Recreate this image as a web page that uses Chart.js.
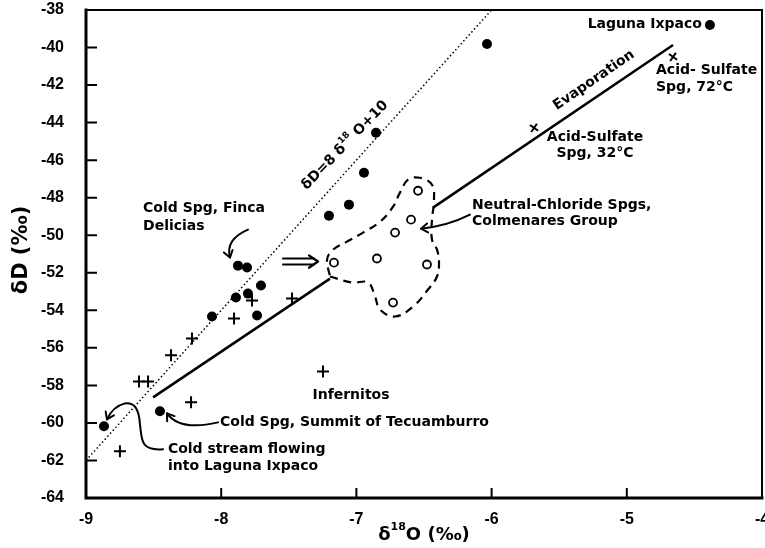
<!DOCTYPE html>
<html>
<head>
<meta charset="utf-8">
<script src="https://cdn.jsdelivr.net/npm/chart.js@4"></script>
<style>
  html, body { margin: 0; padding: 0; background: #fff; }
</style>
</head>
<body>
<canvas id="chart" width="765" height="548"></canvas>
<script>
/* ─── data (δ18O, δD in ‰) ───────────────────────────────── */

const xTickValues = [-9, -8, -7, -6, -5, -4];
const yTickValues = [-38, -40, -42, -44, -46, -48, -50, -52, -54, -56, -58, -60, -62, -64];

// filled circles: cold springs, streams, Laguna Ixpaco
const filledX = [-7.876, -7.809, -7.706, -7.891, -7.802, -8.068, -7.735, -8.453, -8.867, -4.385, -6.034, -6.855, -6.944, -7.055, -7.203];
const filledY = [-51.62, -51.72, -52.68, -53.32, -53.11, -54.33, -54.28, -59.38, -60.18, -38.80, -39.81, -44.54, -46.67, -48.37, -48.96];

// plus signs
const plusX = [-7.772, -7.905, -8.216, -8.371, -8.608, -8.541, -8.223, -8.749, -7.476, -7.247];
const plusY = [-53.48, -54.44, -55.50, -56.40, -57.79, -57.79, -58.90, -61.51, -53.37, -57.26];

// acid-sulfate springs (tilted crosses)
const acidX = [-5.686, -4.658];
const acidY = [-44.28, -40.50];

// open circles: neutral-chloride springs, Colmenares group
const openX = [-6.544, -6.596, -6.714, -7.166, -6.848, -6.478, -6.729];
const openY = [-47.63, -49.17, -49.86, -51.46, -51.24, -51.56, -53.59];

// meteoric water line  δD = 8 δ18O + 10
const mwlX = [-9, -6];
const mwlY = [-62, -38];

// evaporation trend, broken where it meets the Colmenares group
const evapLowX = [-8.504, -7.195];
const evapLowY = [-58.64, -52.31];
const evapHighX = [-6.433, -4.658];
const evapHighY = [-48.53, -39.86];

// dashed outline round the Colmenares group
const blobX = [-7.195, -7.033, -6.914, -6.862, -6.825, -6.714, -6.581, -6.470, -6.404, -6.389, -6.404, -6.441, -6.441, -6.426, -6.441, -6.530, -6.618, -6.678, -6.729, -6.825, -6.951, -7.070, -7.173, -7.217, -7.195];
const blobY = [-52.20, -52.52, -52.52, -53.27, -53.96, -54.33, -53.80, -52.89, -52.20, -51.46, -50.77, -50.23, -49.17, -48.11, -47.31, -46.94, -47.04, -47.73, -48.48, -49.28, -49.86, -50.34, -50.77, -51.30, -52.20];

/* ─── annotations, placed in data units ──────────────────── */

const NOTE_FONT = 'bold 14px "DejaVu Sans"';

const notes = [
  { text: 'Laguna Ixpaco', x: -4.444, y: -38.74, align: 'right' },
  { text: 'Acid- Sulfate', x: -4.784, y: -41.19, align: 'left' },
  { text: 'Spg, 72°C', x: -4.784, y: -42.10, align: 'left' },
  { text: 'Acid-Sulfate', x: -5.235, y: -44.76, align: 'center' },
  { text: 'Spg, 32°C', x: -5.235, y: -45.66, align: 'center' },
  { text: 'Neutral-Chloride Spgs,', x: -6.145, y: -48.43, align: 'left' },
  { text: 'Colmenares Group', x: -6.145, y: -49.28, align: 'left' },
  { text: 'Cold Spg, Finca', x: -8.578, y: -48.59, align: 'left' },
  { text: 'Delicias', x: -8.578, y: -49.54, align: 'left' },
  { text: 'Infernitos', x: -7.040, y: -58.53, align: 'center' },
  { text: 'Cold Spg, Summit of Tecuamburro', x: -8.009, y: -59.97, align: 'left' },
  { text: 'Cold stream flowing', x: -8.394, y: -61.40, align: 'left' },
  { text: 'into Laguna Ixpaco', x: -8.394, y: -62.31, align: 'left' },
];

const arrows = [
  [['M', -7.802, -49.70], ['Q', -7.972, -50.23, -7.935, -51.19]],
  [['M', -6.160, -48.90], ['Q', -6.322, -49.49, -6.522, -49.65]],
  [['M', -8.024, -59.97], ['Q', -8.305, -60.45, -8.401, -59.49]],
  [['M', -8.430, -61.40], ['C', -8.601, -61.51, -8.586, -60.87, -8.601, -60.07],
   ['C', -8.608, -59.28, -8.638, -58.90, -8.712, -58.96], ['Q', -8.800, -59.12, -8.845, -59.81]],
];

const zip = (xs, ys) => xs.map((x, i) => ({ x, y: ys[i] }));

function chevron(ctx, fx, fy, tx, ty, size) {
  const a = Math.atan2(ty - fy, tx - fx);
  ctx.beginPath();
  ctx.moveTo(tx - size * Math.cos(a - 0.6), ty - size * Math.sin(a - 0.6));
  ctx.lineTo(tx, ty);
  ctx.lineTo(tx - size * Math.cos(a + 0.6), ty - size * Math.sin(a + 0.6));
  ctx.stroke();
}

// draws text pieces in a row, superscripts smaller and raised
function drawRun(ctx, parts, x, y, size) {
  let cx = x;
  parts.forEach(p => {
    ctx.font = p.sup ? `bold ${Math.round(size * 0.62)}px "DejaVu Sans"` : `bold ${size}px "DejaVu Sans"`;
    ctx.fillText(p.t, cx, p.sup ? y - size * 0.42 : y);
    cx += ctx.measureText(p.t).width;
  });
}

function runWidth(ctx, parts, size) {
  return parts.reduce((w, p) => {
    ctx.font = p.sup ? `bold ${Math.round(size * 0.62)}px "DejaVu Sans"` : `bold ${size}px "DejaVu Sans"`;
    return w + ctx.measureText(p.t).width;
  }, 0);
}

const framePlugin = {
  id: 'frame',
  afterDraw(chart) {
    const { ctx, chartArea: a, scales: { x, y } } = chart;
    ctx.save();
    ctx.strokeStyle = '#000';
    ctx.lineCap = 'square';
    ctx.lineWidth = 2;
    ctx.beginPath();
    ctx.moveTo(a.left, a.top); ctx.lineTo(a.right, a.top); ctx.lineTo(a.right, a.bottom);
    ctx.stroke();
    ctx.lineWidth = 3;
    ctx.beginPath();
    ctx.moveTo(a.left, a.top); ctx.lineTo(a.left, a.bottom); ctx.lineTo(a.right, a.bottom);
    ctx.stroke();
    // inward tick marks
    ctx.lineWidth = 2;
    ctx.lineCap = 'butt';
    ctx.beginPath();
    x.ticks.forEach(t => {
      const px = x.getPixelForValue(t.value);
      ctx.moveTo(px, a.bottom); ctx.lineTo(px, a.bottom - 10);
    });
    y.ticks.forEach(t => {
      const py = y.getPixelForValue(t.value);
      ctx.moveTo(a.left, py); ctx.lineTo(a.left + 11, py);
    });
    ctx.stroke();

    // axis titles
    ctx.fillStyle = '#000';
    ctx.textBaseline = 'middle';
    ctx.textAlign = 'left';
    const xt = [{ t: 'δ' }, { t: '18', sup: true }, { t: 'O (‰)' }];
    const xw = runWidth(ctx, xt, 18);
    drawRun(ctx, xt, (a.left + a.right) / 2 - xw / 2, 535, 18);

    ctx.save();
    ctx.translate(22, 250);
    ctx.rotate(-Math.PI / 2);
    const yt = [{ t: 'δD (‰)' }];
    const yw = runWidth(ctx, yt, 21);
    drawRun(ctx, yt, -yw / 2, 0, 21);
    ctx.restore();
    ctx.restore();
  },
};

const notesPlugin = {
  id: 'notes',
  afterDatasetsDraw(chart) {
    const { ctx, scales: { x, y } } = chart;
    const P = (vx, vy) => [x.getPixelForValue(vx), y.getPixelForValue(vy)];
    ctx.save();
    ctx.fillStyle = '#000';
    ctx.strokeStyle = '#000';
    ctx.font = NOTE_FONT;
    ctx.textBaseline = 'middle';

    notes.forEach(n => {
      const [px, py] = P(n.x, n.y);
      ctx.textAlign = n.align;
      ctx.fillText(n.text, px, py);
    });

    // rotated labels
    ctx.textAlign = 'left';
    let [cx, cy] = P(-5.243, -41.74);
    ctx.save();
    ctx.translate(cx, cy);
    ctx.rotate(-34.5 * Math.PI / 180);
    const ev = [{ t: 'Evaporation' }];
    drawRun(ctx, ev, -runWidth(ctx, ev, 14) / 2, 0, 14);
    ctx.restore();

    [cx, cy] = P(-7.084, -45.21);
    ctx.save();
    ctx.translate(cx, cy);
    ctx.rotate(-46 * Math.PI / 180);
    const mw = [{ t: 'δD=8 δ' }, { t: '18', sup: true }, { t: ' O+10' }];
    drawRun(ctx, mw, -runWidth(ctx, mw, 14) / 2, 0, 14);
    ctx.restore();

    // curved pointer arrows
    ctx.lineWidth = 2;
    ctx.lineCap = 'round';
    ctx.lineJoin = 'round';
    arrows.forEach(path => {
      ctx.beginPath();
      let prev = null, last = null;
      path.forEach(seg => {
        const pts = [];
        for (let i = 1; i < seg.length; i += 2) pts.push(P(seg[i], seg[i + 1]));
        if (seg[0] === 'M') ctx.moveTo(...pts[0]);
        if (seg[0] === 'Q') ctx.quadraticCurveTo(...pts[0], ...pts[1]);
        if (seg[0] === 'C') ctx.bezierCurveTo(...pts[0], ...pts[1], ...pts[2]);
        prev = pts.length > 1 ? pts[pts.length - 2] : last;
        last = pts[pts.length - 1];
      });
      ctx.stroke();
      chevron(ctx, prev[0], prev[1], last[0], last[1], 8);
    });

    // double arrow pointing at the Colmenares group
    const [sx, sy] = P(-7.543, -51.40);
    const [tx] = P(-7.284, -51.40);
    ctx.lineWidth = 2;
    ctx.beginPath();
    ctx.moveTo(sx, sy - 3); ctx.lineTo(tx - 4, sy - 3);
    ctx.moveTo(sx, sy + 3); ctx.lineTo(tx - 4, sy + 3);
    ctx.stroke();
    ctx.lineWidth = 2.2;
    chevron(ctx, sx, sy, tx, sy, 11);
    ctx.restore();
  },
};

const TICK_FONT = { family: '"Liberation Sans", Arial', size: 16, weight: 'bold' };

// keep the plot box where the figure has it: no padding for edge labels
function noEdgePadding(s) {
  s.paddingLeft = 0; s.paddingRight = 0; s.paddingTop = 0; s.paddingBottom = 0;
}

new Chart(document.getElementById('chart'), {
  type: 'scatter',
  data: {
    datasets: [
      { data: zip(filledX, filledY), pointStyle: 'circle', pointRadius: 5, backgroundColor: '#000', borderColor: '#000', borderWidth: 0 },
      { data: zip(openX, openY), pointStyle: 'circle', pointRadius: 4, backgroundColor: '#fff', borderColor: '#000', borderWidth: 1.8 },
      { data: zip(plusX, plusY), pointStyle: 'cross', pointRadius: 6, borderColor: '#000', borderWidth: 2 },
      { data: zip(acidX, acidY), pointStyle: 'cross', pointRadius: 5, rotation: 35, borderColor: '#000', borderWidth: 2 },
      { data: zip(mwlX, mwlY), showLine: true, pointRadius: 0, borderColor: '#000', borderWidth: 1.5, borderDash: [1.5, 2.5] },
      { data: zip(evapLowX, evapLowY), showLine: true, pointRadius: 0, borderColor: '#000', borderWidth: 2.5 },
      { data: zip(evapHighX, evapHighY), showLine: true, pointRadius: 0, borderColor: '#000', borderWidth: 2.5 },
      { data: zip(blobX, blobY), showLine: true, pointRadius: 0, borderColor: '#000', borderWidth: 2.2, borderDash: [8, 6], tension: 0.4 },
    ],
  },
  options: {
    responsive: false,
    devicePixelRatio: 1,
    animation: false,
    events: [],
    layout: { autoPadding: false, padding: { left: 0, right: 3, top: 10, bottom: 0 } },
    plugins: { legend: { display: false }, tooltip: { enabled: false } },
    scales: {
      x: {
        type: 'linear', min: -9, max: -4,
        afterBuildTicks: s => { s.ticks = xTickValues.map(v => ({ value: v })); },
        afterFit: s => { s.height = 50; noEdgePadding(s); },
        grid: { display: false }, border: { display: false },
        ticks: { font: TICK_FONT, color: '#000', padding: 4, maxRotation: 0, autoSkip: false },
      },
      y: {
        type: 'linear', min: -64, max: -38,
        afterBuildTicks: s => { s.ticks = yTickValues.map(v => ({ value: v })); },
        afterFit: s => { s.width = 86; noEdgePadding(s); },
        grid: { display: false }, border: { display: false },
        ticks: { font: TICK_FONT, color: '#000', padding: 14, autoSkip: false },
      },
    },
  },
  plugins: [framePlugin, notesPlugin],
});
</script>
</body>
</html>
